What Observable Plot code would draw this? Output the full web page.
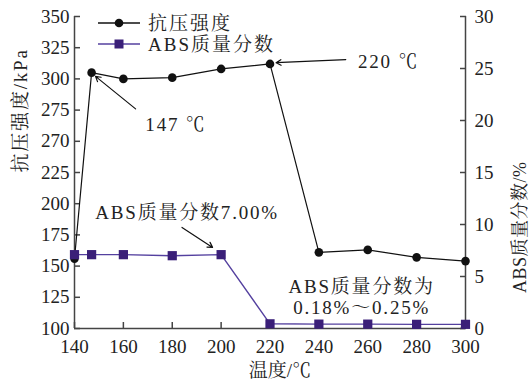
<!DOCTYPE html>
<html><head><meta charset="utf-8">
<script src="https://cdn.jsdelivr.net/npm/d3@7"></script>
<script src="https://cdn.jsdelivr.net/npm/@observablehq/plot@0.6"></script>
<style>
html,body{margin:0;padding:0;background:#fff;}
</style>
</head><body><div id="chart"></div>
<script>
// ---- data ----
const temps = [140, 147, 160, 180, 200, 220, 240, 260, 280, 300];
const strength = [156, 305, 300, 301, 308, 312, 161, 163, 157, 154];
const absTemps = [140, 147, 160, 180, 200, 220, 240, 260, 280, 300];
const absFraction = [7.1, 7.1, 7.1, 7.0, 7.1, 0.45, 0.42, 0.42, 0.4, 0.4];
const xTicks = [140, 160, 180, 200, 220, 240, 260, 280, 300];
const leftTicks = [100, 125, 150, 175, 200, 225, 250, 275, 300, 325, 350];
const leftTickLabels = ["100", "125", "150", "175", "200", "225", "270", "275", "300", "325", "350"];
const rightTicks = [0, 5, 10, 15, 20, 25, 30];
const rightTickLabels = ["0", "5", "10", "15", "20", "25", "30"];
const seriesNames = ["抗压强度", "ABS质量分数"];
const xLabel = "温度/℃";
const leftLabel = "抗压强度/kPa";
const rightLabel = "ABS质量分数/%";
// annotations in data units (left axis)
const notesStart = [
  {text: "147 ℃", x: 169, y: 263},
  {text: "220 ℃", x: 256, y: 314},
  {text: "ABS质量分数7.00%", x: 148.5, y: 193}
];
const notesMiddle = [
  {text: "ABS质量分数为\n0.18%～0.25%", x: 257.5, y: 125.5}
];
const arrows = [
  {x1: 165, y1: 276, x2: 148.6, y2: 302},
  {x1: 251, y1: 315.5, x2: 222.5, y2: 313},
  {x1: 184, y1: 181, x2: 196.5, y2: 165}
];

const leftMin = 100, leftMax = 350, rightMax = 30;
const toLeft = v => leftMin + v * (leftMax - leftMin) / rightMax;

const strengthData = temps.map((t, i) => ({t, v: strength[i]}));
const absData = absTemps.map((t, i) => ({t, v: toLeft(absFraction[i])}));

const black = "#111";
const purpleLine = "#54409f";
const purpleDot = "#3a1f78";
const axisColor = "#444";
const font = "'Liberation Serif','Noto Serif CJK SC',serif";

const chart = Plot.plot({
  width: 529, height: 385,
  marginLeft: 74, marginRight: 64, marginTop: 16, marginBottom: 57,
  style: {fontSize: "19px", color: "#222", background: "#fff"},
  x: {domain: [140, 300]},
  y: {domain: [leftMin, leftMax]},
  marks: [
    Plot.ruleY([leftMin], {stroke: axisColor, strokeWidth: 1.5}),
    Plot.ruleX([140], {stroke: axisColor, strokeWidth: 1.5}),
    Plot.ruleX([300], {stroke: axisColor, strokeWidth: 1.5}),
    Plot.axisX(xTicks, {anchor: "bottom", tickSize: -6, tickPadding: 17, fontSize: 19, label: null, stroke: axisColor, strokeWidth: 1.5}),
    Plot.axisY(leftTicks, {anchor: "left", tickSize: -6, tickPadding: 11, fontSize: 19, label: null, tickFormat: (d, i) => leftTickLabels[i], stroke: axisColor, strokeWidth: 1.5}),
    Plot.axisY(rightTicks.map(toLeft), {anchor: "right", tickSize: -6, tickPadding: 15, fontSize: 19, label: null, tickFormat: (d, i) => rightTickLabels[i], stroke: axisColor, strokeWidth: 1.5}),
    Plot.line(strengthData, {x: "t", y: "v", stroke: black, strokeWidth: 1.2}),
    Plot.dot(strengthData, {x: "t", y: "v", r: 4.3, fill: black, stroke: null}),
    Plot.line(absData, {x: "t", y: "v", stroke: purpleLine, strokeWidth: 1.4}),
    Plot.dot(absData, {x: "t", y: "v", symbol: "square", r: 5.2, fill: purpleDot, stroke: null}),
    Plot.arrow(arrows, {x1: "x1", y1: "y1", x2: "x2", y2: "y2", stroke: black, strokeWidth: 1.2, headLength: 7}),
    Plot.text(notesStart, {x: "x", y: "y", text: "text", textAnchor: "start", fontSize: 19, fill: "#222"}),
    Plot.text(notesMiddle, {x: "x", y: "y", text: "text", textAnchor: "middle", fontSize: 19, lineHeight: 1.1, fill: "#222"}),
    Plot.text([xLabel], {frameAnchor: "bottom", dx: 10, dy: 48, fontSize: 19, fill: "#222"}),
    Plot.text([leftLabel], {frameAnchor: "left", rotate: -90, dx: -54, fontSize: 19, fill: "#222"}),
    Plot.text([rightLabel], {frameAnchor: "right", rotate: -90, dx: 55, dy: -11, fontSize: 18, fill: "#222"})
  ]
});

// legend
const svg = d3.select(chart);
const leg = svg.append("g").attr("font-size", 19).attr("fill", "#222").attr("text-anchor", "start");
const items = [
  {name: seriesNames[0], color: black, dot: black, sym: "circle", y: 23},
  {name: seriesNames[1], color: purpleLine, dot: purpleDot, sym: "square", y: 44}
];
items.forEach(it => {
  leg.append("line").attr("x1", 98).attr("x2", 140).attr("y1", it.y).attr("y2", it.y)
    .attr("stroke", it.color).attr("stroke-width", 1.4);
  if (it.sym === "circle") {
    leg.append("circle").attr("cx", 119).attr("cy", it.y).attr("r", 4.3).attr("fill", it.dot);
  } else {
    leg.append("rect").attr("x", 114.5).attr("y", it.y - 4.5).attr("width", 9).attr("height", 9).attr("fill", it.dot);
  }
  leg.append("text").attr("x", 148).attr("y", it.y).attr("dy", "0.35em").attr("letter-spacing", 2).text(it.name);
});

// serif font on every text element
svg.attr("font-family", font).style("font-family", font);
svg.selectAll("g").attr("font-family", null);
svg.selectAll("text").attr("font-family", font).style("font-family", font);

// letter spacing as in the reference
const spaced = new Map([
  ...notesStart.map(n => [n.text, 1.8]),
  ...notesMiddle.map(n => [n.text.replace("\n", ""), 1.8]),
  [leftLabel, 1.8],
  [rightLabel, 0.5]
]);
svg.selectAll("text").each(function () {
  const s = spaced.get(this.textContent);
  if (s != null) d3.select(this).attr("letter-spacing", s);
});

document.getElementById("chart").appendChild(chart);
</script>
</body></html>
